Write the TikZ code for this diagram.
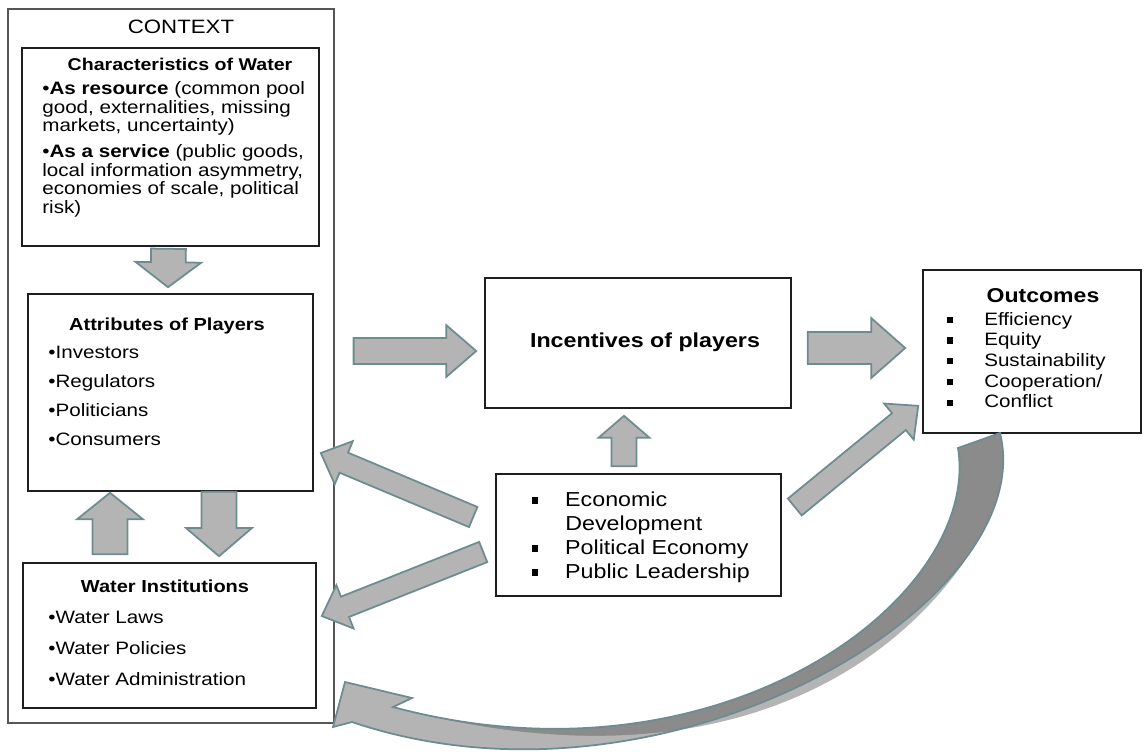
\documentclass[tikz,border=0pt]{standalone}
\usepackage{fontspec}
\setmainfont{Liberation Sans}[FakeStretch=1.15]
\usetikzlibrary{calc,fit}

\definecolor{arrowfill}{HTML}{B4B4B4}
\definecolor{arrowedge}{HTML}{6D8C8F}
\definecolor{arrowdark}{HTML}{8B8B8B}
\definecolor{boxline}{HTML}{1E1E1E}

\newcommand{\sqbullet}{\rule[0.12em]{0.3em}{0.34em}}

\tikzset{
  box/.style={draw=boxline, line width=0.9pt, inner sep=0pt},
  blockarrow/.style={fill=arrowfill, draw=arrowedge, line width=1pt, line join=miter},
  heading/.style={font=\fontsize{#1}{12}\selectfont\bfseries, inner sep=0pt, anchor=base},
  heading/.default=10,
  entry/.style={font=\fontsize{#1}{12}\selectfont, inner sep=0pt, anchor=base west},
  entry/.default=10.2,
}

% fat grey arrow: shaft half width, head half width, head length, from, to
\newcommand{\grayarrow}[5]{%
  \coordinate (ga-s) at #4;
  \coordinate (ga-e) at #5;
  \coordinate (ga-h) at ($(ga-e)!#3!(ga-s)$);
  \filldraw[blockarrow] ($(ga-s)!#1!90:(ga-e)$) -- ($(ga-h)!#1!90:(ga-e)$)
    -- ($(ga-h)!#2!90:(ga-e)$) -- (ga-e) -- ($(ga-h)!#2!-90:(ga-e)$)
    -- ($(ga-h)!#1!-90:(ga-e)$) -- ($(ga-s)!#1!-90:(ga-e)$) -- cycle;
}

\begin{document}
\begin{tikzpicture}[x=0.02cm,y=-0.02cm]
  \useasboundingbox (0,0) rectangle (1148,751);

  % boxes
  \node[box, draw=boxline!75, line width=0.7pt, fit={(8,9) (334,723)}] (context) {};
  \node[box, fit={(22,48) (319,246)}] (chars) {};
  \node[box, fit={(28,294) (313,491)}] (attr) {};
  \node[box, fit={(23,563) (316,708)}] (inst) {};
  \node[box, fit={(485,278) (791,408)}] (inc) {};
  \node[box, fit={(923,270) (1141,433)}] (out) {};
  \node[box, fit={(496,474) (781,596)}] (econ) {};

  \node[entry=11, anchor=base] (ctxlabel) at (181,33) {CONTEXT};

  % characteristics of water
  \node[heading=9.7] (charshead) at (180,70) {Characteristics of Water};
  \node[entry] (res1) at (42,94) {•\textbf{As resource} (common pool};
  \node[entry] (res2) at (42,113) {good, externalities, missing};
  \node[entry] (res3) at (42,131) {markets, uncertainty)};
  \node[entry] (srv1) at (42,157) {•\textbf{As a service} (public goods,};
  \node[entry] (srv2) at (42,176) {local information asymmetry,};
  \node[entry] (srv3) at (42,194) {economies of scale, political};
  \node[entry] (srv4) at (42,213) {risk)};

  % players
  \node[heading=9.9] (attrhead) at (167,330) {Attributes of Players};
  \foreach \who [count=\i] in {Investors,Regulators,Politicians,Consumers}
    \node[entry] (attr\i) at (48,{358+29.3*(\i-1)}) {•\who};

  % institutions
  \node[heading=9.9] (insthead) at (165,592) {Water Institutions};
  \foreach \what [count=\i] in {Laws,Policies,Administration}
    \node[entry] (inst\i) at (48,{623+31*(\i-1)}) {•Water \what};

  \node[heading=11.5] (inclabel) at (645,347) {Incentives of players};

  % outcomes
  \node[heading=11.4] (outhead) at (1043,302) {Outcomes};
  \foreach \res [count=\i] in {Efficiency,Equity,Sustainability,{Cooperation/},Conflict}
    \node[entry] (out\i) at (947,{325+20.7*(\i-1)}) {\makebox[21pt][l]{\sqbullet}\res};

  % external factors
  \node[entry=11.5] (econ1) at (532,506) {\makebox[18.7pt][l]{\sqbullet}Economic};
  \node[entry=11.5] (econ2) at (565,530) {Development};
  \node[entry=11.5] (econ3) at (532,554) {\makebox[18.7pt][l]{\sqbullet}Political Economy};
  \node[entry=11.5] (econ4) at (532,578) {\makebox[18.7pt][l]{\sqbullet}Public Leadership};

  % arrows inside the context
  \grayarrow{9.9pt}{18.7pt}{14.2pt}{($(chars.south)+(-2,2)$)}{($(attr.north)+(-2.5,-6)$)}
  \grayarrow{9.9pt}{18.7pt}{15pt}{($(inst.north)+(-59.5,-8)$)}{($(attr.south)+(-60.5,1)$)}
  \grayarrow{9.9pt}{18.7pt}{16pt}{($(attr.south)+(48.5,0)$)}{($(inst.north)+(49.5,-6)$)}

  % main chain
  \grayarrow{7.4pt}{14.7pt}{17pt}{($(context.east |- inc.west)+(19,8)$)}{($(inc.west)+(-8,8)$)}
  \grayarrow{9.1pt}{17pt}{19.3pt}{($(inc.east)+(16,5)$)}{($(out.west)+(-17,-3.5)$)}

  % from the external factors
  \grayarrow{7.1pt}{14.5pt}{12.5pt}{($(econ.north)+(-14.5,-7)$)}{($(inc.south)+(-14,7)$)}
  \grayarrow{6.2pt}{13.3pt}{14.2pt}{($(econ.west)+(-22,-18)$)}{($(attr.east)+(7,60.5)$)}
  \grayarrow{6.2pt}{13.3pt}{14.2pt}{($(econ.west)+(-12,17)$)}{($(inst.east)+(5,-19.5)$)}
  \grayarrow{6.2pt}{13.3pt}{14.2pt}{($(econ.east)+(13,-28)$)}{($(out.south west)+(-4,-28)$)}

  % feedback from the outcomes back to the context: dark back face, light front face
  \fill[arrowdark] (958,448) -- (1000,433) .. controls (1042,603) and (666,828) .. (352,722)
    -- (333,727) -- (345,682) -- (412,698) -- (393,707)
    .. controls (721,795) and (982,598) .. (958,448) -- cycle;
  \fill[arrowfill] (979,538.5) .. controls (894,680) and (603,807) .. (352,722)
    -- (333,727) -- (345,682) -- (412,698) -- (393,707)
    .. controls (721,795) and (905,665) .. (979,538.5) -- cycle;
  \draw[arrowedge, line width=1pt, line join=miter] (958,448) -- (1000,433)
    .. controls (1042,603) and (666,828) .. (352,722)
    -- (333,727) -- (345,682) -- (412,698) -- (393,707)
    .. controls (721,795) and (982,598) .. (958,448) -- cycle;
\end{tikzpicture}
\end{document}
